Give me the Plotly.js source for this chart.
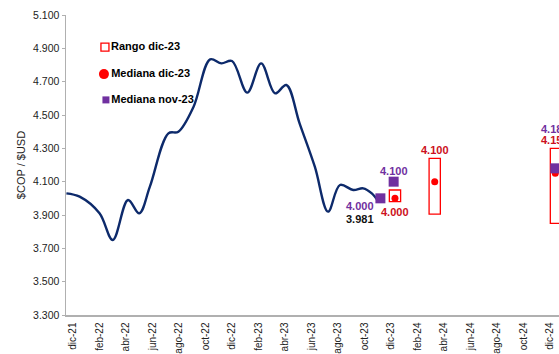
<!DOCTYPE html>
<html>
<head>
<meta charset="utf-8">
<script src="https://cdn.plot.ly/plotly-3.0.1.min.js"></script>
<style>html,body{margin:0;padding:0;overflow:hidden;background:#fff}</style>
</head>
<body>
<div id="chart" style="width:559px;height:354px"></div>
<script>
// Month index: 0 = dic-21, 36 = dic-24
const tickMonths = [0,2,4,6,8,10,12,14,16,18,20,22,24,26,28,30,32,34,36];
const tickLabels = ['dic-21','feb-22','abr-22','jun-22','ago-22','oct-22','dic-22','feb-23','abr-23','jun-23','ago-23','oct-23','dic-23','feb-24','abr-24','jun-24','ago-24','oct-24','dic-24'];

// Spot exchange rate (COP per USD)
const spotMonth = [-0.5,0.5,2.0,3.0,4.15,5.0,5.8,7.2,7.95,9.1,10.35,11.2,12.0,13.15,14.2,15.25,16.1,17.1,18.25,19.25,20.15,21.15,21.9,22.55,23.05];
const spotValue = [4030,4010,3910,3750,3990,3910,4070,4390,4400,4550,4834,4810,4824,4634,4810,4630,4680,4450,4190,3920,4080,4050,4060,4030,3981];

// Forecast survey
const rangeMonth = [24.3,27.3,36.45];
const rangeLow   = [3980,3905,3850];
const rangeHigh  = [4050,4240,4300];
const medDicMonth = [24.3,27.3,36.4];
const medDicValue = [4000,4100,4150];
const medNovMonth = [23.2,24.2,36.4];
const medNovValue = [4000,4100,4180];

// Legend entries
const legendNames = ['Rango dic-23','Mediana dic-23','Mediana nov-23'];

const RED='#FF0000', RED_TXT='#CC1020', PURPLE='#7030A0', NAVY='#0D2A6B';
const FONT='Liberation Sans, Arial, sans-serif';
const fmt = v => (v/1000).toFixed(3);

const traces = [
  {type:'scatter', mode:'lines', x:spotMonth, y:spotValue, line:{color:NAVY,width:2.4,shape:'spline',smoothing:1},
   showlegend:false, hoverinfo:'skip'},
  {type:'bar', name:legendNames[0], x:rangeMonth, base:rangeLow, y:rangeHigh.map((h,i)=>h-rangeLow[i]),
   width:0.85, marker:{color:'rgba(255,255,255,1)', line:{color:RED,width:1.3}}, showlegend:false},
  {type:'scatter', mode:'markers', name:legendNames[1], x:medDicMonth, y:medDicValue,
   marker:{color:RED,size:7,symbol:'circle'}, showlegend:false},
  {type:'scatter', mode:'markers', name:legendNames[2], x:medNovMonth, y:medNovValue,
   marker:{color:PURPLE,size:10,symbol:'square'}, showlegend:false},
  // legend key (overlay axes in 0..1 plot-fraction units)
  {type:'scatter', mode:'markers+text', xaxis:'x2', yaxis:'y2', x:[0.079], y:[0.893],
   text:['<b>'+legendNames[0]+'</b>'], textposition:'middle right',
   textfont:{family:FONT,size:11,color:'#000'},
   marker:{symbol:'square-open', size:8, color:RED, line:{width:1.3}}, showlegend:false, cliponaxis:false},
  {type:'scatter', mode:'markers+text', xaxis:'x2', yaxis:'y2', x:[0.077], y:[0.803],
   text:['<b>'+legendNames[1]+'</b>'], textposition:'middle right',
   textfont:{family:FONT,size:11,color:'#000'},
   marker:{symbol:'circle', size:10, color:RED}, showlegend:false, cliponaxis:false},
  {type:'scatter', mode:'markers+text', xaxis:'x2', yaxis:'y2', x:[0.081], y:[0.717],
   text:['<b>'+legendNames[2]+'</b>'], textposition:'middle right',
   textfont:{family:FONT,size:11,color:'#000'},
   marker:{symbol:'square', size:7, color:PURPLE}, showlegend:false, cliponaxis:false}
];

const ann = [];
const bold = (c)=>({family:FONT, size:11, color:c});
ann.push({x:spotMonth[spotMonth.length-1], y:spotValue[spotValue.length-1], text:'<b>'+fmt(spotValue[spotValue.length-1])+'</b>', showarrow:false, font:bold('#111'), xshift:-18, yshift:-17});
ann.push({x:medNovMonth[0], y:medNovValue[0], text:'<b>'+fmt(medNovValue[0])+'</b>', showarrow:false, font:bold(PURPLE), xshift:-20, yshift:-8});
ann.push({x:medNovMonth[1], y:medNovValue[1], text:'<b>'+fmt(medNovValue[1])+'</b>', showarrow:false, font:bold(PURPLE), xshift:0, yshift:11});
ann.push({x:medNovMonth[2], y:medNovValue[2], text:'<b>'+fmt(medNovValue[2])+'</b>', showarrow:false, font:bold(PURPLE), xshift:0, yshift:39});
ann.push({x:medDicMonth[0], y:rangeLow[0], text:'<b>'+fmt(medDicValue[0])+'</b>', showarrow:false, font:bold(RED_TXT), xshift:0, yshift:-10});
ann.push({x:medDicMonth[1], y:rangeHigh[1], text:'<b>'+fmt(medDicValue[1])+'</b>', showarrow:false, font:bold(RED_TXT), xshift:0, yshift:8});
ann.push({x:medDicMonth[2], y:rangeHigh[2], text:'<b>'+fmt(medDicValue[2])+'</b>', showarrow:false, font:bold(RED_TXT), xshift:0, yshift:8});

const layout = {
  width:559, height:354,
  margin:{l:66, r:0, t:15, b:39},
  paper_bgcolor:'#fff', plot_bgcolor:'#fff',
  separators:',.',
  font:{family:FONT, size:10, color:'#222'},
  showlegend:false,
  xaxis:{range:[-0.53,36.68], tickmode:'array', tickvals:tickMonths, ticktext:tickLabels, tickangle:-90,
         showgrid:false, zeroline:false, showline:true, linecolor:'#b0b0b0', linewidth:1.5, ticks:'',
         ticklabelstandoff:2, tickfont:{size:10, color:'#222'}, fixedrange:true},
  yaxis:{range:[3300,5100], tickmode:'linear', tick0:3300, dtick:200, tickformat:',d',
         showgrid:false, zeroline:false, showline:true, linecolor:'#b0b0b0', linewidth:1.5,
         ticks:'outside', ticklen:3, tickcolor:'#b0b0b0', tickfont:{size:10.5, color:'#222'},
         title:{text:'$COP / $USD', font:{size:11, color:'#222'}, standoff:5}},
  xaxis2:{overlaying:'x', range:[0,1], visible:false, fixedrange:true},
  yaxis2:{overlaying:'y', range:[0,1], visible:false, fixedrange:true},
  annotations:ann,
  bargap:0
};
Plotly.newPlot('chart', traces, layout, {displayModeBar:false, staticPlot:true});
</script>
</body>
</html>
